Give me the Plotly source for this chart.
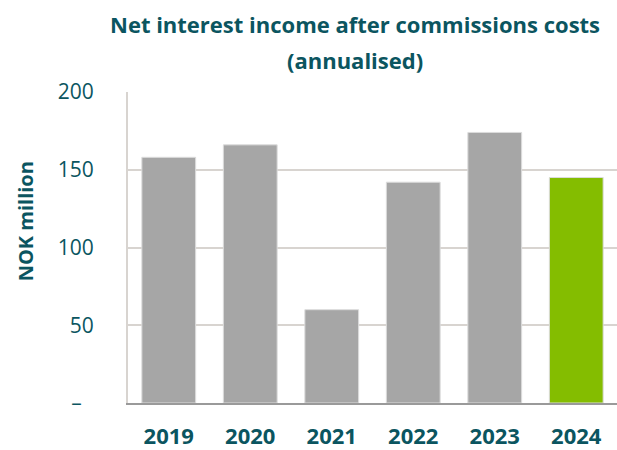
import plotly.graph_objects as go

# Net interest income after commissions costs, NOK million (annualised)
years = ["2019", "2020", "2021", "2022", "2023", "2024"]
values = [158, 166, 60, 142, 174, 145]
bar_colors = ["#a6a6a6", "#a6a6a6", "#a6a6a6", "#a6a6a6", "#a6a6a6", "#84bd00"]

y_tickvals = [0, 50, 100, 150, 200]
y_ticktext = ["\u2013\u2007", "50", "100", "150", "200"]

title_line1 = "Net interest income after commissions costs"
title_line2 = "(annualised)"
y_title = "NOK million"

teal = "#0b5560"
font_family = "Open Sans, Noto Sans, sans-serif"

fig = go.Figure(
    go.Bar(
        x=years,
        y=values,
        marker=dict(color=bar_colors, line=dict(color="#dcdcdc", width=1)),
        hoverinfo="x+y",
    )
)

fig.update_layout(
    width=617,
    height=450,
    margin=dict(l=128, r=0, t=92, b=43),
    paper_bgcolor="white",
    plot_bgcolor="white",
    bargap=0.34,
    showlegend=False,
    font=dict(family=font_family, color=teal),
    annotations=[
        dict(text=f"<b>{title_line1}</b>", xref="paper", yref="paper",
             x=0.464, y=1 + (92 - 23) / 315, xanchor="center", yanchor="middle",
             showarrow=False, font=dict(size=22, color=teal)),
        dict(text=f"<b>{title_line2}</b>", xref="paper", yref="paper",
             x=0.464, y=1 + (92 - 60) / 315, xanchor="center", yanchor="middle",
             showarrow=False, font=dict(size=22, color=teal)),
        dict(text=f"<b>{y_title}</b>", xref="paper", yref="paper",
             x=-(128 - 25) / 489, y=(407 - 223) / 315, xanchor="center", yanchor="middle",
             textangle=-90, showarrow=False, font=dict(size=20, color=teal)),
    ],
)

fig.update_xaxes(
    showgrid=False,
    showline=True,
    linecolor="#9a9a9a",
    linewidth=2,
    ticks="",
    tickfont=dict(size=22, color=teal, family=font_family, weight="bold"),
    ticklabelstandoff=13,
)

fig.update_yaxes(
    range=[0, 200],
    tickvals=y_tickvals,
    ticktext=y_ticktext,
    showgrid=True,
    gridcolor="#d8d4d0",
    gridwidth=2,
    showline=True,
    linecolor="#d8d4d0",
    linewidth=2,
    zeroline=False,
    ticks="",
    tickfont=dict(size=21, color=teal, family=font_family),
    ticklabelstandoff=28,
)

fig.write_html("out.html")
